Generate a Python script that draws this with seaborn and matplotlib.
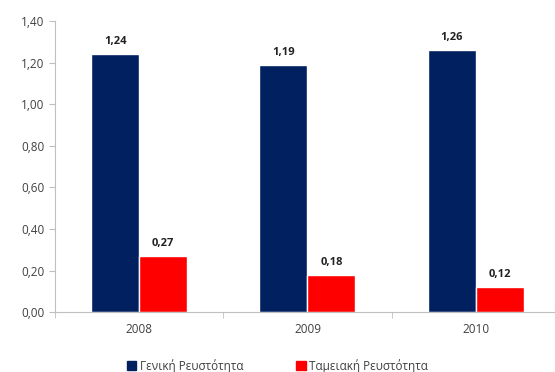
import pandas as pd
import matplotlib.pyplot as plt
import seaborn as sns
from matplotlib.ticker import FuncFormatter, FixedLocator

# data
years = ['2008', '2009', '2010']
series_names = ['Γενική Ρευστότητα', 'Ταμειακή Ρευστότητα']
general = [1.24, 1.19, 1.26]
cash = [0.27, 0.18, 0.12]
colors = ['#002060', '#FF0000']

df = pd.DataFrame({
    'year': years * 2,
    'series': [series_names[0]] * 3 + [series_names[1]] * 3,
    'value': general + cash,
})

sns.set_style('white')
plt.rcParams['font.family'] = ['Open Sans', 'DejaVu Sans']

fig = plt.figure(figsize=(5.55, 3.72), dpi=100)
ax = fig.add_axes([0.099, 0.161, 0.91, 0.7825])

sns.barplot(data=df, x='year', y='value', hue='series', palette=colors,
            width=0.57, saturation=1, ax=ax, legend=True)

# value labels
for container in ax.containers:
    ax.bar_label(container, labels=[f'{v:.2f}'.replace('.', ',') for v in container.datavalues],
                 padding=5, fontsize=8, fontweight='bold', color='#222222')

ax.set_ylim(0, 1.4)
ax.set_xlim(-0.5, 2.5)
ax.set_yticks([i * 0.2 for i in range(8)])
ax.yaxis.set_major_formatter(FuncFormatter(lambda v, p: f'{v:.2f}'.replace('.', ',')))
ax.xaxis.set_minor_locator(FixedLocator([-0.5, 0.5, 1.5, 2.5]))
ax.tick_params(axis='x', which='major', length=0, pad=8, labelsize=8.5, colors='#404040')
ax.tick_params(axis='x', which='minor', length=4, color='#BFBFBF', bottom=True)
ax.tick_params(axis='y', length=4, color='#BFBFBF', left=True, labelsize=8.5, colors='#404040')
ax.set_xlabel('')
ax.set_ylabel('')

sns.despine(ax=ax)
for s in ['left', 'bottom']:
    ax.spines[s].set_color('#BFBFBF')
    ax.spines[s].set_linewidth(0.8)

ax.legend_.remove()
handles = [plt.Rectangle((0, 0), 1, 1, color=c) for c in colors]
fig.legend(handles, series_names, loc='lower center', bbox_to_anchor=(0.5, -0.03),
           ncol=2, frameon=False, fontsize=8.5, handlelength=0.8, handleheight=0.8,
           handletextpad=0.3, columnspacing=4.5, labelcolor='#404040')

plt.savefig('out.png', dpi=100)
